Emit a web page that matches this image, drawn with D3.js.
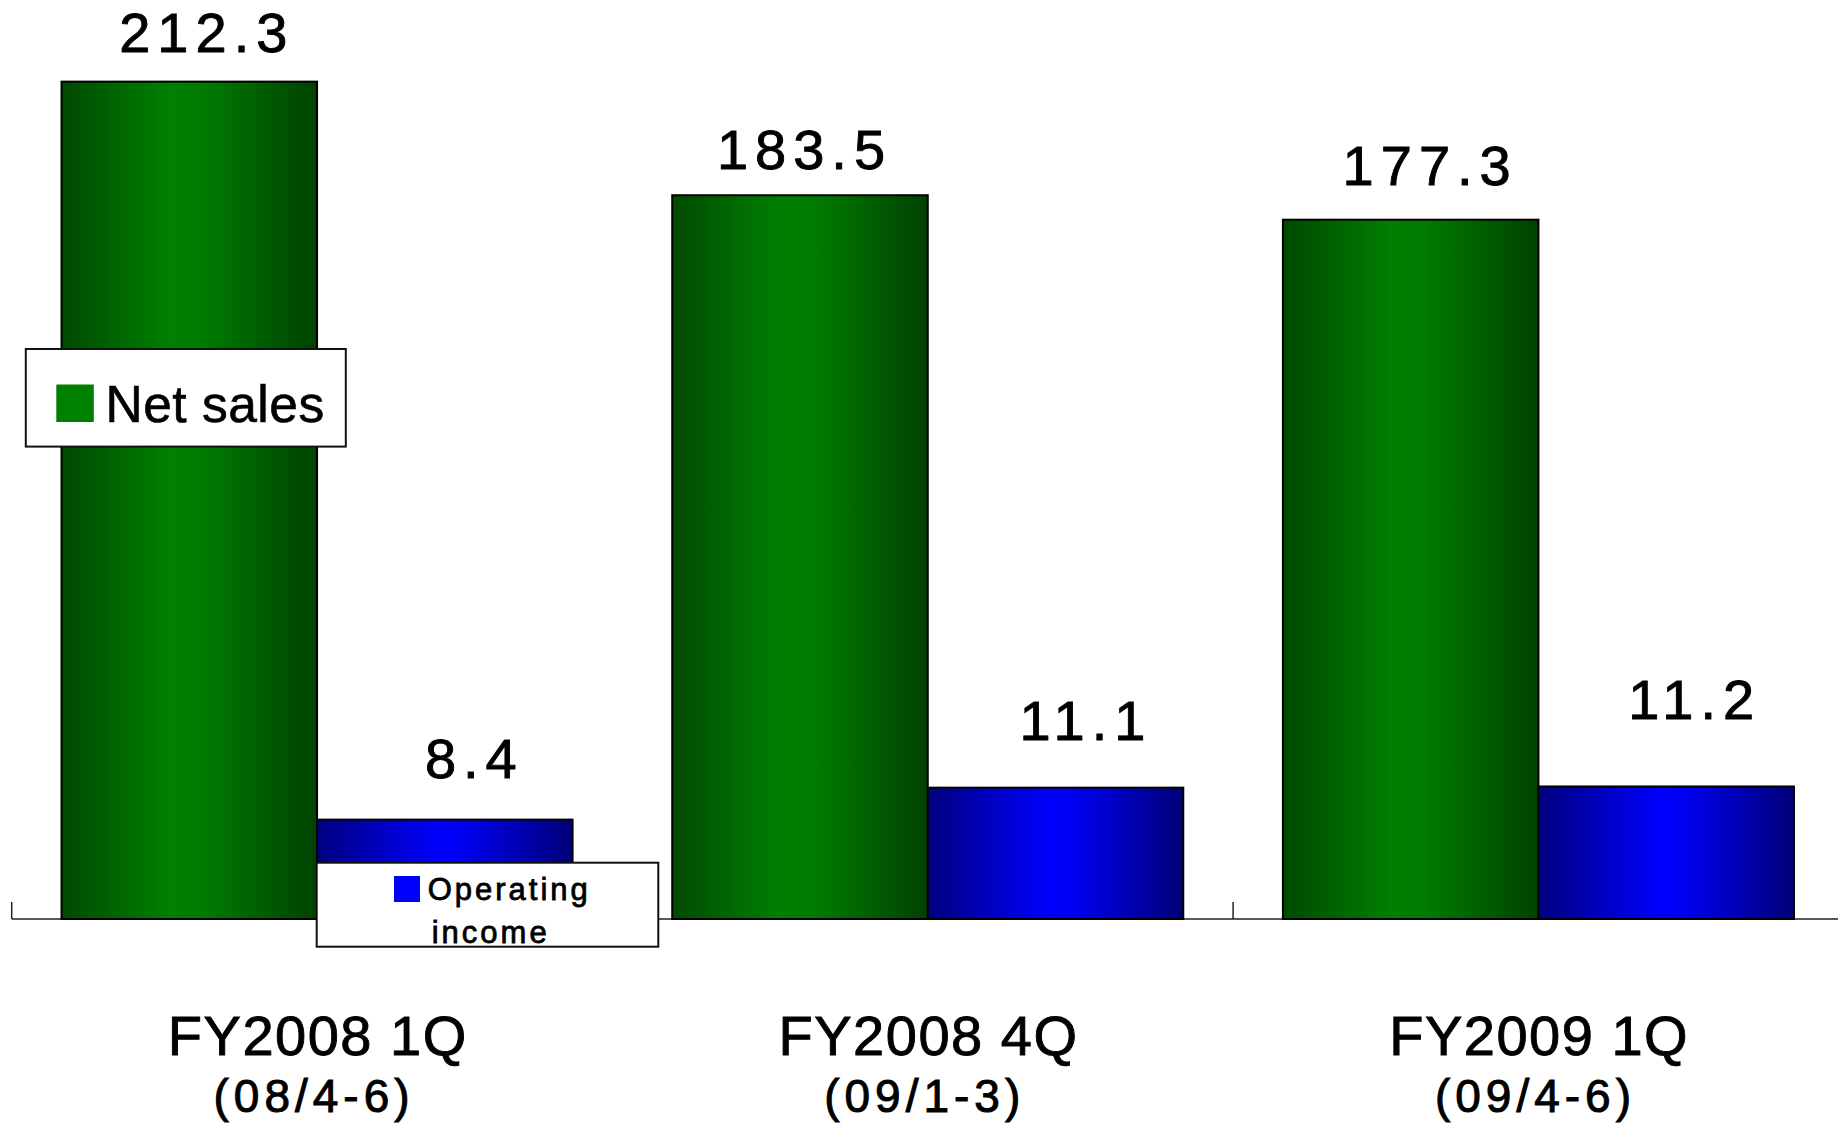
<!DOCTYPE html>
<html>
<head>
<meta charset="utf-8">
<script src="https://cdn.jsdelivr.net/npm/d3@7"></script>
<style>
  html, body { margin: 0; padding: 0; background: #fff; }
  svg { display: block; }
  text { font-family: "Liberation Sans", Arial, sans-serif; fill: #000; }
</style>
</head>
<body>
<svg id="chart" width="1838" height="1125"></svg>
<script>
// Quarterly results (billion yen)
const categories = ["FY2008 1Q", "FY2008 4Q", "FY2009 1Q"];
const periods = ["(08/4-6)", "(09/1-3)", "(09/4-6)"];
const seriesNames = ["Net sales", "Operating income"];
const netSales = [212.3, 183.5, 177.3];
const operatingIncome = [8.4, 11.1, 11.2];

const W = 1838, H = 1125;
const baseY = 919;
const svg = d3.select("#chart");

// Category bands, two bars per band
const x = d3.scaleBand().domain(categories).range([11.7, 11.7 + 3 * 610.7]).paddingInner(0).paddingOuter(0);
const xs = d3.scaleBand().domain(seriesNames).range([0, x.bandwidth()]).paddingInner(0).paddingOuter(0.195);

// Net sales on the primary scale, operating income on a secondary scale (1/3 of it)
const yPrimary = d3.scaleLinear().domain([0, 233]).range([baseY, 0]);
const ySecondary = d3.scaleLinear().domain([0, 233 / 3]).range([baseY, 0]);

// Gradients: dark edges, bright middle
const defs = svg.append("defs");
function gradient(id, stops) {
  const g = defs.append("linearGradient").attr("id", id)
    .attr("x1", 0).attr("x2", 1).attr("y1", 0).attr("y2", 0);
  stops.forEach(([o, c]) => g.append("stop").attr("offset", o).attr("stop-color", c));
}
gradient("gNet", [[0, "#004a00"], [0.42, "#007f00"], [0.55, "#007c00"], [1, "#004200"]]);
gradient("gOp", [[0, "#000080"], [0.48, "#0000ff"], [0.56, "#0000f4"], [1, "#000078"]]);

const series = [
  { name: seriesNames[0], values: netSales, y: yPrimary, fill: "url(#gNet)",
    // label offsets from the bar centre / top
    shift: [[14, 30], [1, 26], [16, 35]] },
  { name: seriesNames[1], values: operatingIncome, y: ySecondary, fill: "url(#gOp)",
    shift: [[26, 42], [27, 48], [25, 67]] }
];

// Axis baseline
svg.append("line")
  .attr("x1", x.range()[0]).attr("x2", W)
  .attr("y1", baseY).attr("y2", baseY)
  .attr("stroke", "#222").attr("stroke-width", 1.5);

// Category boundary ticks
svg.selectAll("line.tick").data(categories).join("line")
  .attr("class", "tick")
  .attr("x1", d => x(d)).attr("x2", d => x(d))
  .attr("y1", baseY - 17).attr("y2", baseY)
  .attr("stroke", "#222").attr("stroke-width", 1.5);

// Bars
series.forEach(s => {
  svg.append("g").selectAll("rect").data(categories).join("rect")
    .attr("x", d => x(d) + xs(s.name))
    .attr("width", xs.bandwidth())
    .attr("y", (d, i) => s.y(s.values[i]))
    .attr("height", (d, i) => baseY - s.y(s.values[i]))
    .attr("fill", s.fill)
    .attr("stroke", "#000").attr("stroke-width", 2);
});

// Value labels
const valueLs = 7;
series.forEach(s => {
  svg.append("g").selectAll("text").data(categories).join("text")
    .attr("x", (d, i) => x(d) + xs(s.name) + xs.bandwidth() / 2 + s.shift[i][0] + valueLs / 2)
    .attr("y", (d, i) => s.y(s.values[i]) - s.shift[i][1])
    .attr("text-anchor", "middle")
    .attr("font-size", 56)
    .attr("letter-spacing", valueLs)
    .attr("stroke", "#000").attr("stroke-width", 0.9)
    .text((d, i) => s.values[i].toFixed(1));
});

// Category labels
svg.append("g").selectAll("text").data(categories).join("text")
  .attr("x", d => x(d) + x.bandwidth() / 2 + 0.75)
  .attr("y", 1055)
  .attr("text-anchor", "middle")
  .attr("font-size", 56)
  .attr("letter-spacing", 1.5)
  .attr("stroke", "#000").attr("stroke-width", 0.9)
  .text(d => d);

svg.append("g").selectAll("text").data(periods).join("text")
  .attr("x", (d, i) => x(categories[i]) + x.bandwidth() / 2 - 3)
  .attr("y", 1112)
  .attr("text-anchor", "middle")
  .attr("font-size", 46)
  .attr("letter-spacing", 5)
  .attr("stroke", "#000").attr("stroke-width", 1)
  .text(d => d);

// Legend: Net sales
const l1 = svg.append("g");
l1.append("rect").attr("x", 25.8).attr("y", 349).attr("width", 320).attr("height", 97.6)
  .attr("fill", "#fff").attr("stroke", "#111").attr("stroke-width", 2);
l1.append("rect").attr("x", 56.3).attr("y", 384.5).attr("width", 37.5).attr("height", 37.5)
  .attr("fill", "#008000");
l1.append("text").attr("x", 105.5).attr("y", 422).attr("font-size", 51.5)
  .attr("letter-spacing", 0.5)
  .attr("stroke", "#000").attr("stroke-width", 0.6)
  .text(seriesNames[0]);

// Legend: Operating income
const l2 = svg.append("g");
l2.append("rect").attr("x", 316.7).attr("y", 862.7).attr("width", 341.6).attr("height", 84)
  .attr("fill", "#fff").attr("stroke", "#111").attr("stroke-width", 2);
l2.append("rect").attr("x", 394).attr("y", 876).attr("width", 26).attr("height", 26)
  .attr("fill", "#0000ff");
const words = seriesNames[1].split(" ");
l2.append("text").attr("x", 427.7).attr("y", 900).attr("font-size", 31)
  .attr("letter-spacing", 3)
  .attr("stroke", "#000").attr("stroke-width", 0.8)
  .text(words[0]);
l2.append("text").attr("x", 431.7).attr("y", 942.7).attr("font-size", 31)
  .attr("letter-spacing", 3)
  .attr("stroke", "#000").attr("stroke-width", 0.8)
  .text(words[1]);
</script>
</body>
</html>
